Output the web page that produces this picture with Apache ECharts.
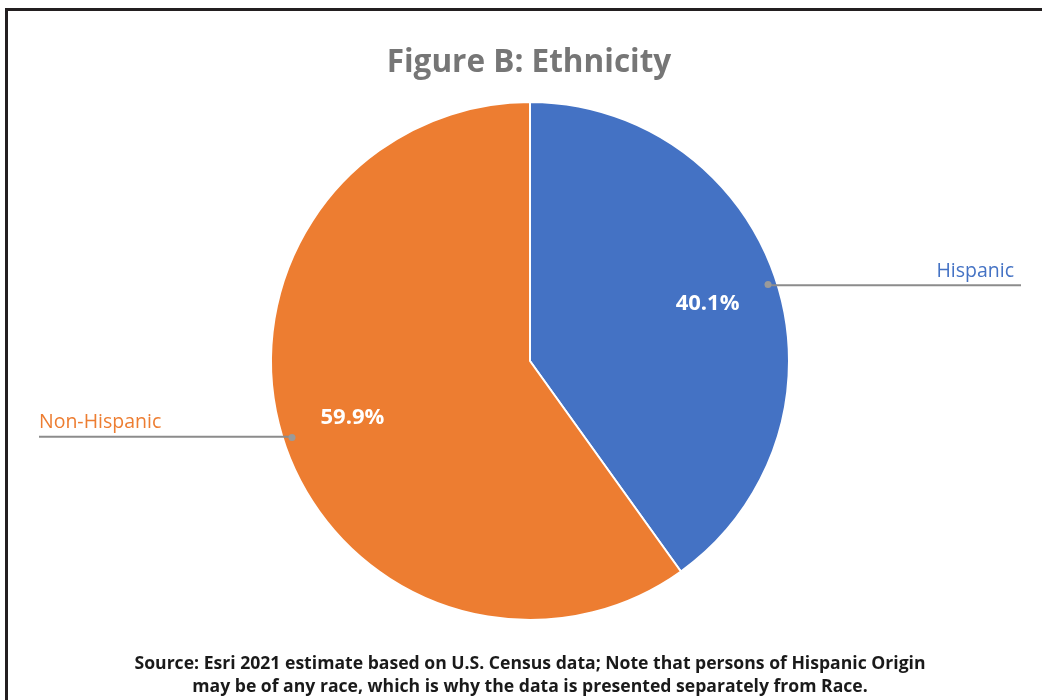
<!DOCTYPE html>
<html>
<head>
<meta charset="utf-8">
<title>Figure B: Ethnicity</title>
<script src="https://cdn.jsdelivr.net/npm/echarts@6/dist/echarts.min.js"></script>
<style>
  html, body { margin: 0; padding: 0; background: #ffffff; }
  #chart { width: 1042px; height: 700px; }
</style>
</head>
<body>
<div id="chart"></div>
<script>
// Ethnicity shares (percent)
const categories = ['Hispanic', 'Non-Hispanic'];
const shares = [40.1, 59.9];
const sliceColors = ['#4472C4', '#ED7D31'];

const chartTitle = 'Figure B: Ethnicity';
const sourceNote = 'Source: Esri 2021 estimate based on U.S. Census data; Note that persons of Hispanic Origin\nmay be of any race, which is why the data is presented separately from Race.';

const FONT = '"Open Sans", Lato, sans-serif';
const CENTER = [530, 361];
const RADIUS = 259;
const ANCHOR_R = 247;

const chart = echarts.init(document.getElementById('chart'), null, { renderer: 'canvas' });

const baseData = categories.map((name, i) => ({ name, value: shares[i] }));

// Invisible helper rings only carry labels
const hiddenRing = { color: 'rgba(0,0,0,0)', borderWidth: 0, borderColor: 'rgba(0,0,0,0)' };

// Category name sitting on top of a grey leader line that runs to the page edge
function nameLabel(i) {
  const right = i === 0;
  return {
    show: true,
    position: 'outside',
    alignTo: 'edge',
    edgeDistance: right ? 21 : 39,
    distanceToLabelLine: 0,
    formatter: '{t|{b}}\n{bar|}\n{s|}',
    rich: {
      t: {
        fontFamily: FONT, fontSize: 19.5, color: sliceColors[i],
        height: 26, lineHeight: 26,
        padding: right ? [0, 7, 0, 0] : [0, 0, 0, 0]
      },
      bar: { width: right ? 86 : 124, height: 2, lineHeight: 2, backgroundColor: '#8c8c8c' },
      s: { height: 26, lineHeight: 26, fontSize: 1 }
    }
  };
}

const option = {
  backgroundColor: '#ffffff',
  animation: false,
  title: [
    {
      text: chartTitle,
      left: 524,
      textAlign: 'center',
      top: 42,
      textStyle: { fontFamily: FONT, fontSize: 31.5, fontWeight: 'bold', color: '#767676' }
    },
    {
      text: sourceNote,
      left: 525,
      textAlign: 'center',
      top: 647,
      textStyle: { fontFamily: FONT, fontSize: 17.6, fontWeight: 'bold', color: '#1a1a1a', lineHeight: 23 }
    }
  ],
  graphic: [
    {
      type: 'rect',
      silent: true,
      shape: { x: 6.5, y: 9.5, width: 1100, height: 800 },
      style: { fill: 'none', stroke: '#231f20', lineWidth: 3 }
    }
  ],
  series: [
    // the slices
    {
      type: 'pie',
      z: 2,
      center: CENTER,
      radius: [0, RADIUS],
      startAngle: 90,
      clockwise: true,
      silent: true,
      label: { show: false },
      labelLine: { show: false },
      itemStyle: { borderColor: '#ffffff', borderWidth: 2 },
      data: baseData.map((d, i) => ({ ...d, itemStyle: { color: sliceColors[i] } }))
    },
    // percentage labels inside the slices
    {
      type: 'pie',
      z: 3,
      center: CENTER,
      radius: [108, RADIUS],
      startAngle: 90,
      silent: true,
      itemStyle: hiddenRing,
      label: {
        show: true,
        position: 'inside',
        formatter: (p) => p.value.toFixed(1) + '%',
        fontFamily: FONT, fontSize: 22, fontWeight: 'bold', color: '#ffffff'
      },
      labelLine: { show: false },
      data: baseData
    },
    // category names with leader lines
    {
      type: 'pie',
      z: 4,
      center: CENTER,
      radius: [0, ANCHOR_R],
      startAngle: 90,
      silent: true,
      avoidLabelOverlap: true,
      itemStyle: hiddenRing,
      labelLine: {
        show: true, length: 0.5, length2: 10, smooth: false,
        minTurnAngle: 0, maxSurfaceAngle: 0,
        lineStyle: { color: '#8c8c8c', width: 2 }
      },
      data: baseData.map((d, i) => ({ ...d, label: nameLabel(i) }))
    },
    // leader-line anchor dots
    {
      type: 'pie',
      z: 5,
      center: CENTER,
      radius: [ANCHOR_R - 6, ANCHOR_R + 6],
      startAngle: 90,
      silent: true,
      itemStyle: hiddenRing,
      label: {
        show: true,
        position: 'inside',
        formatter: ' ',
        fontSize: 1,
        width: 7, height: 7,
        padding: 0,
        borderRadius: 3.5,
        backgroundColor: '#9a9a9a'
      },
      labelLine: { show: false },
      data: baseData
    }
  ]
};

chart.setOption(option);
</script>
</body>
</html>
